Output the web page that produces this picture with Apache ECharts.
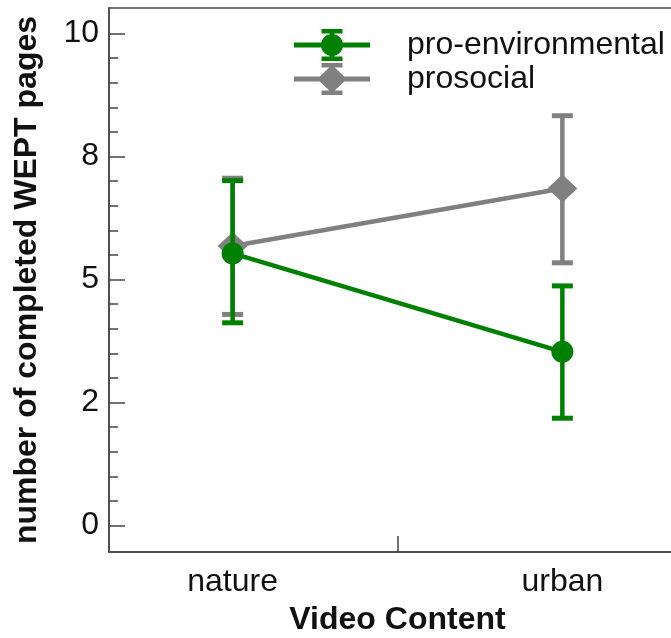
<!DOCTYPE html>
<html>
<head>
<meta charset="utf-8">
<script src="https://cdn.jsdelivr.net/npm/echarts@6/dist/echarts.min.js"></script>
<style>
html,body{margin:0;padding:0;background:#fff;}
#c{width:671px;height:638px;}
</style>
</head>
<body>
<div id="c"></div>
<script>
// ---- data ----
const categories = ['nature', 'urban'];
const proEnvMean = [5.53, 3.53];
const proEnvLow = [4.12, 2.18];
const proEnvHigh = [7.01, 4.87];
const prosocialMean = [5.68, 6.85];
const prosocialLow = [4.29, 5.34];
const prosocialHigh = [7.06, 8.33];
const yTickValues = [0, 2.5, 5, 7.5, 10];
const yTickLabels = ['0', '2', '5', '8', '10'];
const yMinorValues = [0.5, 1, 1.5, 2, 3, 3.5, 4, 4.5, 5.5, 6, 6.5, 7, 8, 8.5, 9, 9.5];

const GREEN = '#008000';
const GRAY = '#808080';
const FONT = "'Liberation Sans', Arial, sans-serif";

const catX = categories.map((c, i) => i + 1);
const lineData = (m) => m.map((v, i) => [catX[i], v]);
const errData = (lo, hi) => lo.map((v, i) => [catX[i], v, hi[i]]);

function errorBar(color) {
  return function (params, api) {
    const x = api.value(0);
    const pLo = api.coord([x, api.value(1)]);
    const pHi = api.coord([x, api.value(2)]);
    const hw = 10.5;
    return {
      type: 'group',
      children: [
        { type: 'line', shape: { x1: pLo[0], y1: pLo[1], x2: pHi[0], y2: pHi[1] }, style: { stroke: color, lineWidth: 4.5 } },
        { type: 'line', shape: { x1: pHi[0] - hw, y1: pHi[1], x2: pHi[0] + hw, y2: pHi[1] }, style: { stroke: color, lineWidth: 5 } },
        { type: 'line', shape: { x1: pLo[0] - hw, y1: pLo[1], x2: pLo[0] + hw, y2: pLo[1] }, style: { stroke: color, lineWidth: 5 } }
      ]
    };
  };
}

const iconBase = 'M0 13.5 H76 V18.5 H0 Z M35.75 2 H40.25 V30 H35.75 Z M27.5 0 H48.5 V4.5 H27.5 Z M27.5 27.5 H48.5 V32 H27.5 Z ';
const iconCircle = 'path://' + iconBase + 'M27 16 A11 11 0 0 1 49 16 A11 11 0 0 1 27 16 Z';
const iconDiamond = 'path://' + iconBase + 'M38 2 L53 16 L38 30 L23 16 Z';

const legendCommon = {
  orient: 'vertical',
  left: 294,
  padding: 0,
  itemWidth: 76,
  itemHeight: 32,
  selectedMode: false,
  itemStyle: { borderWidth: 0 },
  textStyle: { fontFamily: FONT, fontSize: 32, color: '#111', padding: [0, 0, 0, 32] }
};

const chart = echarts.init(document.getElementById('c'));
chart.setOption({
  animation: false,
  backgroundColor: '#fff',
  grid: {
    left: 109, top: 8, width: 577, bottom: 86,
    outerBoundsMode: 'none', containLabel: false,
    show: true, borderColor: '#444', borderWidth: 1.5, backgroundColor: 'transparent'
  },
  legend: [
    Object.assign({}, legendCommon, { top: 29, data: [{ name: 'pro-environmental', icon: iconCircle }] }),
    Object.assign({}, legendCommon, { top: 63, data: [{ name: 'prosocial', icon: iconDiamond }] })
  ],
  xAxis: {
    type: 'value',
    min: 0.625,
    max: 2.375,
    name: 'Video Content',
    nameLocation: 'middle',
    nameGap: 52,
    nameTextStyle: { fontFamily: FONT, fontSize: 32, fontWeight: 'bold', color: '#111' },
    splitLine: { show: false },
    axisLine: { show: true, onZero: false, lineStyle: { color: '#444', width: 1.5 } },
    axisTick: { show: true, inside: true, length: 16, customValues: [1.5], lineStyle: { color: '#444', width: 1.5 } },
    axisLabel: {
      customValues: catX,
      margin: 14,
      fontFamily: FONT, fontSize: 32, color: '#111',
      formatter: (v) => categories[Math.round(v) - 1] || ''
    }
  },
  yAxis: [
    {
      type: 'value',
      min: -0.54,
      max: 10.52,
      name: 'number of completed WEPT pages',
      nameLocation: 'middle',
      nameGap: 66,
      nameTextStyle: { fontFamily: FONT, fontSize: 32, fontWeight: 'bold', color: '#111' },
      splitLine: { show: false },
      axisLine: { show: true, onZero: false, lineStyle: { color: '#444', width: 1.5 } },
      axisTick: { show: true, inside: true, length: 16, customValues: yTickValues, lineStyle: { color: '#444', width: 1.5 } },
      axisLabel: {
        customValues: yTickValues,
        margin: 10,
        fontFamily: FONT, fontSize: 32, color: '#111',
        formatter: (v) => yTickLabels[yTickValues.indexOf(v)]
      }
    },
    {
      type: 'value',
      min: -0.54,
      max: 10.52,
      position: 'left',
      splitLine: { show: false },
      axisLine: { show: false, onZero: false },
      axisTick: { show: true, inside: true, length: 9, customValues: yMinorValues, lineStyle: { color: '#444', width: 1.5 } },
      axisLabel: { show: false }
    }
  ],
  series: [
    { type: 'custom', name: 'err-prosocial', z: 1, renderItem: errorBar(GRAY), data: errData(prosocialLow, prosocialHigh), encode: { x: 0, y: [1, 2] } },
    { type: 'line', name: 'prosocial', z: 2, data: lineData(prosocialMean), color: GRAY, symbol: 'diamond', symbolSize: [30, 28], lineStyle: { width: 4.5, color: GRAY }, itemStyle: { color: GRAY } },
    { type: 'custom', name: 'err-proenv', z: 3, renderItem: errorBar(GREEN), data: errData(proEnvLow, proEnvHigh), encode: { x: 0, y: [1, 2] } },
    { type: 'line', name: 'pro-environmental', z: 4, data: lineData(proEnvMean), color: GREEN, symbol: 'circle', symbolSize: 22, lineStyle: { width: 4.5, color: GREEN }, itemStyle: { color: GREEN } }
  ]
});
</script>
</body>
</html>
